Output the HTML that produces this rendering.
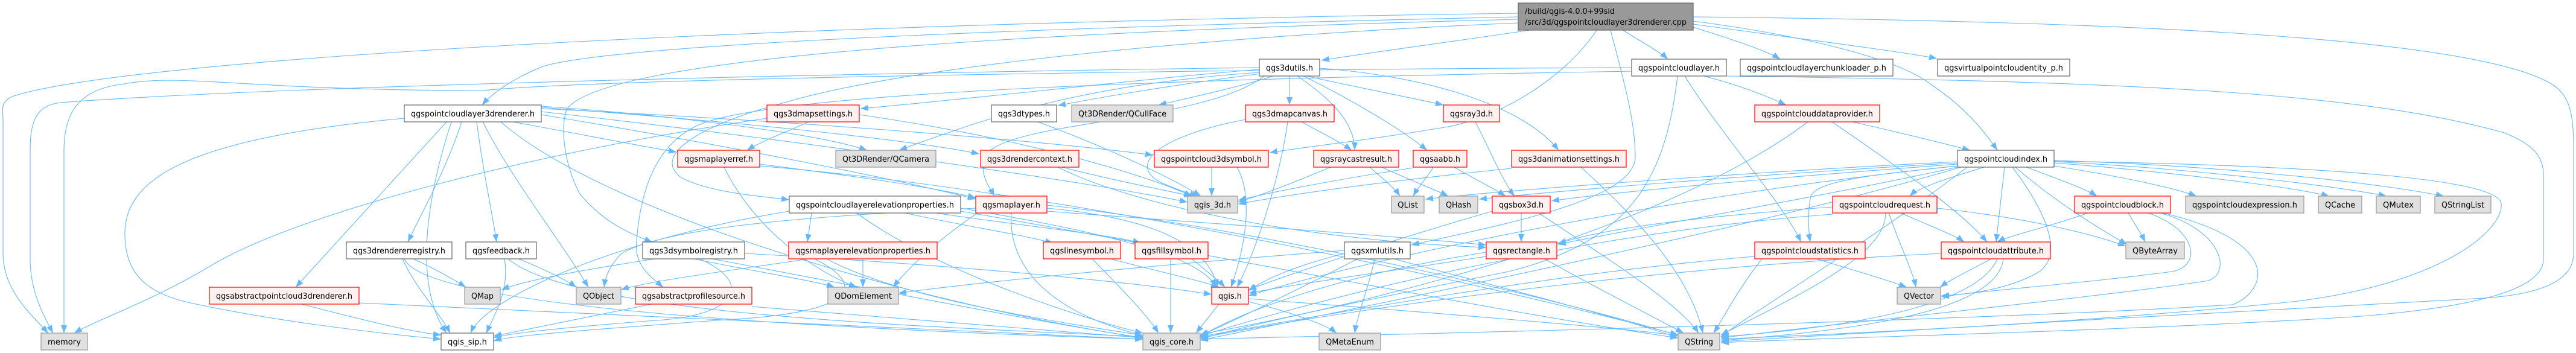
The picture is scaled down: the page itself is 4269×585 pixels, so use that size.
<!DOCTYPE html>
<html><head><meta charset="utf-8"><style>
html,body{margin:0;padding:0;background:#fff;}
svg{display:block;}
text{font-family:"DejaVu Sans","Liberation Sans",sans-serif;font-size:13px;fill:#000;}
.w{fill:#fff;stroke:#666;stroke-width:1.2}
.g{fill:#e0e0e0;stroke:#999;stroke-width:1.2}
.r{fill:#fff0f0;stroke:#ff0000;stroke-width:1.2}
.e path{fill:none;stroke:#63b8ff;stroke-width:1.1}
</style></head><body>
<svg width="4269" height="585" viewBox="0 0 4269 585" xmlns="http://www.w3.org/2000/svg">
<defs><marker id="a" markerUnits="userSpaceOnUse" markerWidth="14" markerHeight="10" refX="13" refY="5" orient="auto"><path d="M0,0 L13,5 L0,10 z" fill="#63b8ff"/></marker></defs>
<g class="e" marker-end="url(#a)">
<!-- root -->
<path marker-end="url(#a)" d="M2535,50 C2400,70 2250,90 2190,100"/>
<path marker-end="url(#a)" d="M2690,50 C2720,70 2750,85 2764,98"/>
<path marker-end="url(#a)" d="M2806,45 C2870,65 2930,85 2950,98"/>
<path marker-end="url(#a)" d="M2806,40 C2950,60 3150,85 3210,97"/>
<path marker-end="url(#a)" d="M2806,35 C3000,60 3150,100 3200,140 C3260,180 3290,220 3310,249"/>
<path marker-end="url(#a)" d="M2516,28 C1500,50 1000,80 900,110 C850,130 815,155 799,174"/>
<path marker-end="url(#a)" d="M2516,22 C1200,40 200,100 20,160 C0,170 5,180 5,200 L5,420 C5,480 50,520 80,552"/>
<path marker-end="url(#a)" d="M2646,50 C2600,120 2500,190 2400,210 C2250,235 2150,245 2104,253"/>
<path marker-end="url(#a)" d="M2669,50 C2690,130 2710,200 2710,260 C2710,330 2500,370 2339,406"/>
<path marker-end="url(#a)" d="M2516,32 C1600,55 1000,100 940,180 C930,200 930,260 960,320 C1000,370 1050,390 1081,401"/>
<path marker-end="url(#a)" d="M2516,38 C2000,60 1500,110 1300,170 C1150,210 1080,260 1130,295 C1180,320 1260,325 1308,331"/>
<path marker-end="url(#a)" d="M2806,28 C3500,35 4100,60 4230,140 C4260,160 4265,190 4265,250 L4265,420 C4265,470 4200,490 4100,495 C3800,510 3200,545 2852,566"/>
<path marker-end="url(#a)" d="M2861,126 C3500,135 3900,150 4150,220 C4200,240 4215,260 4215,290 L4215,430 C4215,480 4100,510 3900,525 C3500,550 3000,560 2852,568"/>
<!-- qgs3dutils -->
<path marker-end="url(#a)" d="M2087,115 C1900,130 1600,165 1426,180"/>
<path marker-end="url(#a)" d="M2090,122 C1950,140 1830,160 1753,175"/>
<path marker-end="url(#a)" d="M2110,126 C2050,145 1980,160 1920,174"/>
<path marker-end="url(#a)" d="M2137,126 L2137,174"/>
<path marker-end="url(#a)" d="M2165,126 C2250,145 2330,160 2392,174"/>
<path marker-end="url(#a)" d="M2150,126 C2200,160 2245,200 2245,249"/>
<path marker-end="url(#a)" d="M2160,126 C2250,170 2330,220 2365,249"/>
<path marker-end="url(#a)" d="M2187,113 C2350,125 2520,170 2583,249"/>
<path marker-end="url(#a)" d="M2087,120 C1800,140 1650,190 1490,249"/>
<path marker-end="url(#a)" d="M2087,112 C1500,120 500,140 100,170 C60,175 50,200 50,250 L50,430 C50,480 70,520 88,552"/>
<path marker-end="url(#a)" d="M2095,126 C2000,200 1700,200 1640,250 C1615,280 1640,310 1648,325"/>
<path marker-end="url(#a)" d="M2704,112 C2000,115 1000,130 800,150 C400,150 300,120 200,140 C120,150 106,200 106,250 L106,552"/>
<path marker-end="url(#a)" d="M2704,118 C2000,130 1300,150 1160,206 C1080,240 1060,330 1055,400 C1050,440 1080,460 1099,476"/>
<!-- qgs3dmapcanvas -->
<path marker-end="url(#a)" d="M2157,202 C2190,220 2220,235 2240,249"/>
<path marker-end="url(#a)" d="M2064,198 C1900,230 1870,280 1930,305 C1960,318 1975,322 1985,325"/>
<path marker-end="url(#a)" d="M2134,202 C2120,300 2080,420 2050,476"/>
<!-- raycast / aabb / ray3d / anim -->
<path marker-end="url(#a)" d="M2270,277 C2290,295 2310,310 2320,325"/>
<path marker-end="url(#a)" d="M2290,277 C2340,300 2380,315 2400,325"/>
<path marker-end="url(#a)" d="M2205,277 C2150,300 2100,320 2052,335"/>
<path marker-end="url(#a)" d="M2375,277 C2365,295 2350,310 2342,325"/>
<path marker-end="url(#a)" d="M2410,277 C2450,300 2480,315 2495,325"/>
<path marker-end="url(#a)" d="M2342,278 C2200,300 2100,320 2052,332"/>
<path marker-end="url(#a)" d="M2445,202 C2470,250 2490,300 2510,325"/>
<path marker-end="url(#a)" d="M2505,279 C2300,300 2150,320 2052,338"/>
<path marker-end="url(#a)" d="M2620,277 C2700,350 2800,450 2822,552"/>
<!-- box3d / rectangle / xmlutils -->
<path marker-end="url(#a)" d="M2521,353 L2521,401"/>
<path marker-end="url(#a)" d="M2550,353 C2650,420 2780,500 2815,552"/>
<path marker-end="url(#a)" d="M2473,350 C2300,400 2150,450 2069,480"/>
<path marker-end="url(#a)" d="M2463,418 C2200,460 2050,520 1989,558"/>
<path marker-end="url(#a)" d="M2560,429 C2650,480 2750,530 2790,552"/>
<path marker-end="url(#a)" d="M2463,425 C2300,450 2150,470 2069,486"/>
<path marker-end="url(#a)" d="M2278,429 C2270,470 2250,520 2245,552"/>
<path marker-end="url(#a)" d="M2250,429 C2150,480 2050,530 1989,556"/>
<path marker-end="url(#a)" d="M2310,429 C2500,480 2700,530 2781,560"/>
<path marker-end="url(#a)" d="M2228,420 C2150,440 2100,460 2069,482"/>
<path marker-end="url(#a)" d="M2228,415 C1900,440 1600,470 1489,486"/>
<!-- qgspointcloudlayer -->
<path marker-end="url(#a)" d="M2823,126 C2880,140 2930,160 2960,174"/>
<path marker-end="url(#a)" d="M2792,126 C2850,220 2950,330 2985,401"/>
<path marker-end="url(#a)" d="M2780,126 C2760,300 2700,400 2500,450 C2300,490 2100,530 1989,562"/>
<!-- dataprovider -->
<path marker-end="url(#a)" d="M3070,202 C3150,220 3230,240 3265,249"/>
<path marker-end="url(#a)" d="M3036,202 C3150,280 3250,350 3293,401"/>
<path marker-end="url(#a)" d="M2996,202 C2800,350 2400,480 1989,554"/>
<!-- index -->
<path marker-end="url(#a)" d="M3288,277 C3230,295 3180,310 3165,325"/>
<path marker-end="url(#a)" d="M3244,275 C3100,290 3000,300 3000,330 C2995,360 2998,390 3000,401"/>
<path marker-end="url(#a)" d="M3322,277 L3308,401"/>
<path marker-end="url(#a)" d="M3358,277 C3420,300 3460,315 3475,325"/>
<path marker-end="url(#a)" d="M3404,275 C3500,290 3600,310 3640,325"/>
<path marker-end="url(#a)" d="M3404,270 C3600,285 3800,310 3860,325"/>
<path marker-end="url(#a)" d="M3404,268 C3650,280 3880,310 3955,325"/>
<path marker-end="url(#a)" d="M3404,266 C3700,275 3950,305 4050,325"/>
<path marker-end="url(#a)" d="M3340,277 C3400,330 3480,380 3525,405"/>
<path marker-end="url(#a)" d="M3335,277 C3390,350 3420,420 3380,450 C3330,480 3260,488 3217,490"/>
<path marker-end="url(#a)" d="M3404,267 C3900,275 4140,300 4145,337 C4150,380 4050,470 3800,500 C3400,540 3000,555 2852,562"/>
<path marker-end="url(#a)" d="M3244,270 C2900,290 2600,315 2451,330"/>
<path marker-end="url(#a)" d="M3244,272 C3000,290 2700,315 2571,333"/>
<path marker-end="url(#a)" d="M3244,268 C2900,285 2500,315 2362,330"/>
<path marker-end="url(#a)" d="M3244,277 C3000,330 2700,380 2582,405"/>
<path marker-end="url(#a)" d="M3244,275 C2800,320 2300,420 2069,490"/>
<path marker-end="url(#a)" d="M3250,277 C2900,380 2300,500 1989,564"/>
<path marker-end="url(#a)" d="M3260,277 C3100,400 2900,520 2852,558"/>
<!-- request -->
<path marker-end="url(#a)" d="M3150,353 C3200,375 3240,390 3255,401"/>
<path marker-end="url(#a)" d="M3130,353 C3150,410 3170,450 3175,476"/>
<path marker-end="url(#a)" d="M3037,343 C2800,360 2650,380 2582,404"/>
<path marker-end="url(#a)" d="M3037,355 C2700,380 2300,460 1989,557"/>
<path marker-end="url(#a)" d="M3125,353 C3125,420 3000,480 2852,555"/>
<path marker-end="url(#a)" d="M3210,345 C3350,360 3460,385 3523,408"/>
<!-- block -->
<path marker-end="url(#a)" d="M3460,353 C3400,375 3330,390 3310,401"/>
<path marker-end="url(#a)" d="M3527,353 C3540,375 3550,390 3555,401"/>
<path marker-end="url(#a)" d="M3560,353 C3640,380 3650,440 3600,450 C3450,470 3300,480 3217,492"/>
<path marker-end="url(#a)" d="M3580,353 C3680,380 3700,450 3660,465 C3500,490 3100,530 2852,560"/>
<path marker-end="url(#a)" d="M3585,353 C3780,400 3760,480 3700,505 C3300,530 2500,550 1989,562"/>
<!-- attribute / statistics -->
<path marker-end="url(#a)" d="M3300,429 C3260,450 3230,465 3215,476"/>
<path marker-end="url(#a)" d="M3310,429 C3280,500 3100,540 2852,558"/>
<path marker-end="url(#a)" d="M3217,420 C2800,440 2300,500 1989,560"/>
<path marker-end="url(#a)" d="M3320,429 C3310,520 3050,550 2852,564"/>
<path marker-end="url(#a)" d="M3010,429 C3080,450 3130,465 3160,476"/>
<path marker-end="url(#a)" d="M2908,425 C2600,450 2200,520 1989,558"/>
<path marker-end="url(#a)" d="M2920,429 C2880,480 2860,520 2840,552"/>
<!-- qgspointcloudlayer3drenderer -->
<path marker-end="url(#a)" d="M740,202 C650,300 560,400 490,476"/>
<path marker-end="url(#a)" d="M765,202 C740,280 700,350 676,401"/>
<path marker-end="url(#a)" d="M790,202 C800,280 815,350 823,401"/>
<path marker-end="url(#a)" d="M800,202 C850,300 930,400 975,476"/>
<path marker-end="url(#a)" d="M850,202 C950,220 1050,240 1121,252"/>
<path marker-end="url(#a)" d="M748,202 C700,350 690,480 740,552"/>
<path marker-end="url(#a)" d="M670,196 C300,230 205,300 207,390 C208,460 250,490 330,505 C450,530 600,550 731,562"/>
<path marker-end="url(#a)" d="M1271,196 C900,250 500,350 350,440 C250,500 160,530 123,552"/>
<path marker-end="url(#a)" d="M897,176 C1100,190 1350,220 1437,249"/>
<path marker-end="url(#a)" d="M897,178 C1200,200 1500,230 1623,255"/>
<path marker-end="url(#a)" d="M897,180 C1300,200 1700,230 1911,257"/>
<path marker-end="url(#a)" d="M897,185 C1300,230 1800,300 1968,335"/>
<path marker-end="url(#a)" d="M897,190 C1200,240 1500,300 1617,330"/>
<path marker-end="url(#a)" d="M830,202 C1000,350 1500,500 1894,560"/>
<!-- registry / feedback -->
<path marker-end="url(#a)" d="M685,429 C720,445 755,465 772,476"/>
<path marker-end="url(#a)" d="M667,429 C690,480 730,520 746,552"/>
<path marker-end="url(#a)" d="M670,429 C700,500 1200,540 1894,562"/>
<path marker-end="url(#a)" d="M859,429 C900,445 940,465 955,476"/>
<path marker-end="url(#a)" d="M836,429 C845,480 820,520 806,552"/>
<path marker-end="url(#a)" d="M842,429 C950,520 1500,540 1894,558"/>
<!-- symbolregistry -->
<path marker-end="url(#a)" d="M1085,429 C950,450 870,465 831,480"/>
<path marker-end="url(#a)" d="M1150,429 C1250,450 1350,465 1383,476"/>
<path marker-end="url(#a)" d="M1160,429 C1250,470 1220,520 1100,530 C900,545 830,555 818,560"/>
<path marker-end="url(#a)" d="M1180,429 C1400,470 1700,530 1894,560"/>
<path marker-end="url(#a)" d="M1234,420 C1600,440 1900,470 2008,488"/>
<!-- maplayerelevationproperties -->
<path marker-end="url(#a)" d="M1430,429 L1430,476"/>
<path marker-end="url(#a)" d="M1340,429 C1200,450 1080,465 1029,480"/>
<path marker-end="url(#a)" d="M1350,429 C1450,480 1400,520 1200,530 C1000,545 850,555 818,565"/>
<path marker-end="url(#a)" d="M1370,429 C1500,500 1800,540 1894,556"/>
<path marker-end="url(#a)" d="M1080,504 C950,530 850,550 818,557"/>
<path marker-end="url(#a)" d="M1246,508 C1500,530 1750,550 1894,560"/>
<path marker-end="url(#a)" d="M500,504 C600,530 680,550 731,555"/>
<path marker-end="url(#a)" d="M595,502 C1000,520 1500,545 1894,562"/>
<!-- maplayerref / rendercontext / symbol -->
<path marker-end="url(#a)" d="M1200,277 C1250,380 1350,450 1420,476"/>
<path marker-end="url(#a)" d="M1259,272 C1400,290 1550,310 1617,328"/>
<path marker-end="url(#a)" d="M1259,275 C1800,320 2500,480 2781,555"/>
<path marker-end="url(#a)" d="M1760,277 C1850,300 1930,315 1975,325"/>
<path marker-end="url(#a)" d="M1753,277 C1900,350 2200,400 2463,410"/>
<path marker-end="url(#a)" d="M2008,277 L2008,325"/>
<path marker-end="url(#a)" d="M2050,277 C2080,330 2060,420 2040,476"/>
<!-- maplayer -->
<path marker-end="url(#a)" d="M1676,353 C1670,450 1750,520 1894,556"/>
<path marker-end="url(#a)" d="M1735,340 C2100,380 2600,500 2781,556"/>
<path marker-end="url(#a)" d="M1620,353 C1550,400 1500,450 1480,476"/>
<path marker-end="url(#a)" d="M1735,345 C1900,360 2000,400 2018,476"/>
<path marker-end="url(#a)" d="M1617,345 C1300,360 1100,380 1030,420 C1010,440 1003,460 1001,476"/>
<path marker-end="url(#a)" d="M1735,350 C2000,370 2300,390 2463,406"/>
<!-- pointcloudlayerelevationproperties -->
<path marker-end="url(#a)" d="M1345,353 L1338,401"/>
<path marker-end="url(#a)" d="M1500,353 C1600,375 1700,390 1745,403"/>
<path marker-end="url(#a)" d="M1550,353 C1700,375 1850,390 1890,403"/>
<path marker-end="url(#a)" d="M1308,350 C1000,400 800,500 780,552"/>
<path marker-end="url(#a)" d="M1420,353 C1550,450 1800,530 1894,552"/>
<path marker-end="url(#a)" d="M1592,345 C1800,380 1990,420 2015,476"/>
<path marker-end="url(#a)" d="M1592,350 C2000,420 2500,520 2781,560"/>
<!-- symbols / qgis.h / types / mapsettings -->
<path marker-end="url(#a)" d="M1810,429 C1850,470 1900,520 1920,552"/>
<path marker-end="url(#a)" d="M1840,429 C1920,450 1990,465 2020,476"/>
<path marker-end="url(#a)" d="M1940,429 L1940,552"/>
<path marker-end="url(#a)" d="M1975,429 C2000,450 2020,465 2030,476"/>
<path marker-end="url(#a)" d="M2020,504 L1982,552"/>
<path marker-end="url(#a)" d="M2069,500 C2150,520 2200,540 2215,552"/>
<path marker-end="url(#a)" d="M2069,495 C2400,520 2700,545 2781,556"/>
<path marker-end="url(#a)" d="M1720,202 C1850,250 1950,300 1990,325"/>
<path marker-end="url(#a)" d="M1340,202 C1300,220 1260,235 1238,249"/>
<path marker-end="url(#a)" d="M1424,190 C1700,230 1900,290 1975,325"/>
</g>
<!-- nodes -->
<rect class="g" x="2516" y="5" width="290" height="45" style="fill:#999;stroke:#666"/>
<text x="2527" y="23" textLength="149" lengthAdjust="spacingAndGlyphs">/build/qgis-4.0.0+99sid</text>
<text x="2527" y="41" textLength="268" lengthAdjust="spacingAndGlyphs">/src/3d/qgspointcloudlayer3drenderer.cpp</text>

<rect class="w" x="2087" y="98" width="100" height="28"/><text x="2137" y="117" text-anchor="middle" textLength="78" lengthAdjust="spacingAndGlyphs">qgs3dutils.h</text>
<rect class="w" x="2704" y="98" width="157" height="28"/><text x="2782.5" y="117" text-anchor="middle" textLength="135" lengthAdjust="spacingAndGlyphs">qgspointcloudlayer.h</text>
<rect class="w" x="2884" y="98" width="253" height="28"/><text x="3010.5" y="117" text-anchor="middle" textLength="231" lengthAdjust="spacingAndGlyphs">qgspointcloudlayerchunkloader_p.h</text>
<rect class="w" x="3211" y="98" width="219" height="28"/><text x="3320.5" y="117" text-anchor="middle" textLength="197" lengthAdjust="spacingAndGlyphs">qgsvirtualpointcloudentity_p.h</text>

<rect class="w" x="670" y="174" width="227" height="28"/><text x="783.5" y="193" text-anchor="middle" textLength="205" lengthAdjust="spacingAndGlyphs">qgspointcloudlayer3drenderer.h</text>
<rect class="r" x="1271" y="174" width="153" height="28"/><text x="1347.5" y="193" text-anchor="middle" textLength="131" lengthAdjust="spacingAndGlyphs">qgs3dmapsettings.h</text>
<rect class="w" x="1643" y="174" width="108" height="28"/><text x="1697" y="193" text-anchor="middle" textLength="86" lengthAdjust="spacingAndGlyphs">qgs3dtypes.h</text>
<rect class="g" x="1776" y="174" width="168" height="28"/><text x="1860" y="193" text-anchor="middle" textLength="146" lengthAdjust="spacingAndGlyphs">Qt3DRender/QCullFace</text>
<rect class="r" x="2064" y="174" width="147" height="28"/><text x="2137.5" y="193" text-anchor="middle" textLength="125" lengthAdjust="spacingAndGlyphs">qgs3dmapcanvas.h</text>
<rect class="r" x="2392" y="174" width="93" height="28"/><text x="2438.5" y="193" text-anchor="middle" textLength="71" lengthAdjust="spacingAndGlyphs">qgsray3d.h</text>
<rect class="r" x="2908" y="174" width="207" height="28"/><text x="3011.5" y="193" text-anchor="middle" textLength="185" lengthAdjust="spacingAndGlyphs">qgspointclouddataprovider.h</text>

<rect class="r" x="1123" y="249" width="136" height="28"/><text x="1191" y="268" text-anchor="middle" textLength="114" lengthAdjust="spacingAndGlyphs">qgsmaplayerref.h</text>
<rect class="g" x="1385" y="249" width="166" height="28"/><text x="1468" y="268" text-anchor="middle" textLength="144" lengthAdjust="spacingAndGlyphs">Qt3DRender/QCamera</text>
<rect class="r" x="1625" y="249" width="163" height="28"/><text x="1706.5" y="268" text-anchor="middle" textLength="141" lengthAdjust="spacingAndGlyphs">qgs3drendercontext.h</text>
<rect class="r" x="1913" y="249" width="189" height="28"/><text x="2007.5" y="268" text-anchor="middle" textLength="167" lengthAdjust="spacingAndGlyphs">qgspointcloud3dsymbol.h</text>
<rect class="r" x="2177" y="249" width="141" height="28"/><text x="2247.5" y="268" text-anchor="middle" textLength="119" lengthAdjust="spacingAndGlyphs">qgsraycastresult.h</text>
<rect class="r" x="2342" y="249" width="89" height="28"/><text x="2386.5" y="268" text-anchor="middle" textLength="67" lengthAdjust="spacingAndGlyphs">qgsaabb.h</text>
<rect class="r" x="2505" y="249" width="190" height="28"/><text x="2600" y="268" text-anchor="middle" textLength="168" lengthAdjust="spacingAndGlyphs">qgs3danimationsettings.h</text>
<rect class="w" x="3244" y="249" width="160" height="28"/><text x="3324" y="268" text-anchor="middle" textLength="138" lengthAdjust="spacingAndGlyphs">qgspointcloudindex.h</text>

<rect class="w" x="1308" y="325" width="284" height="28"/><text x="1450" y="344" text-anchor="middle" textLength="262" lengthAdjust="spacingAndGlyphs">qgspointcloudlayerelevationproperties.h</text>
<rect class="r" x="1617" y="325" width="118" height="28"/><text x="1676" y="344" text-anchor="middle" textLength="96" lengthAdjust="spacingAndGlyphs">qgsmaplayer.h</text>
<rect class="g" x="1968" y="325" width="83" height="28"/><text x="2009.5" y="344" text-anchor="middle" textLength="61" lengthAdjust="spacingAndGlyphs">qgis_3d.h</text>
<rect class="g" x="2306" y="325" width="54" height="28"/><text x="2333" y="344" text-anchor="middle" textLength="34" lengthAdjust="spacingAndGlyphs">QList</text>
<rect class="g" x="2385" y="325" width="64" height="28"/><text x="2417" y="344" text-anchor="middle" textLength="42" lengthAdjust="spacingAndGlyphs">QHash</text>
<rect class="r" x="2473" y="325" width="96" height="28"/><text x="2521" y="344" text-anchor="middle" textLength="74" lengthAdjust="spacingAndGlyphs">qgsbox3d.h</text>
<rect class="r" x="3037" y="325" width="173" height="28"/><text x="3123.5" y="344" text-anchor="middle" textLength="151" lengthAdjust="spacingAndGlyphs">qgspointcloudrequest.h</text>
<rect class="r" x="3438" y="325" width="159" height="28"/><text x="3517.5" y="344" text-anchor="middle" textLength="137" lengthAdjust="spacingAndGlyphs">qgspointcloudblock.h</text>
<rect class="g" x="3622" y="325" width="196" height="28"/><text x="3720" y="344" text-anchor="middle" textLength="174" lengthAdjust="spacingAndGlyphs">qgspointcloudexpression.h</text>
<rect class="g" x="3842" y="325" width="72" height="28"/><text x="3878" y="344" text-anchor="middle" textLength="50" lengthAdjust="spacingAndGlyphs">QCache</text>
<rect class="g" x="3938" y="325" width="73" height="28"/><text x="3974.5" y="344" text-anchor="middle" textLength="51" lengthAdjust="spacingAndGlyphs">QMutex</text>
<rect class="g" x="4035" y="325" width="93" height="28"/><text x="4081.5" y="344" text-anchor="middle" textLength="71" lengthAdjust="spacingAndGlyphs">QStringList</text>

<rect class="w" x="574" y="401" width="175" height="28"/><text x="661.5" y="420" text-anchor="middle" textLength="153" lengthAdjust="spacingAndGlyphs">qgs3drendererregistry.h</text>
<rect class="w" x="772" y="401" width="117" height="28"/><text x="830.5" y="420" text-anchor="middle" textLength="95" lengthAdjust="spacingAndGlyphs">qgsfeedback.h</text>
<rect class="w" x="1065" y="401" width="169" height="28"/><text x="1149.5" y="420" text-anchor="middle" textLength="147" lengthAdjust="spacingAndGlyphs">qgs3dsymbolregistry.h</text>
<rect class="r" x="1307" y="401" width="246" height="28"/><text x="1430" y="420" text-anchor="middle" textLength="224" lengthAdjust="spacingAndGlyphs">qgsmaplayerelevationproperties.h</text>
<rect class="r" x="1729" y="401" width="128" height="28"/><text x="1793" y="420" text-anchor="middle" textLength="106" lengthAdjust="spacingAndGlyphs">qgslinesymbol.h</text>
<rect class="r" x="1881" y="401" width="121" height="28"/><text x="1941.5" y="420" text-anchor="middle" textLength="99" lengthAdjust="spacingAndGlyphs">qgsfillsymbol.h</text>
<rect class="w" x="2228" y="401" width="109" height="28"/><text x="2282.5" y="420" text-anchor="middle" textLength="87" lengthAdjust="spacingAndGlyphs">qgsxmlutils.h</text>
<rect class="r" x="2463" y="401" width="117" height="28"/><text x="2521.5" y="420" text-anchor="middle" textLength="95" lengthAdjust="spacingAndGlyphs">qgsrectangle.h</text>
<rect class="r" x="2908" y="401" width="183" height="28"/><text x="2999.5" y="420" text-anchor="middle" textLength="161" lengthAdjust="spacingAndGlyphs">qgspointcloudstatistics.h</text>
<rect class="r" x="3217" y="401" width="181" height="28"/><text x="3307.5" y="420" text-anchor="middle" textLength="159" lengthAdjust="spacingAndGlyphs">qgspointcloudattribute.h</text>
<rect class="g" x="3523" y="401" width="97" height="28"/><text x="3571.5" y="420" text-anchor="middle" textLength="75" lengthAdjust="spacingAndGlyphs">QByteArray</text>

<rect class="r" x="347" y="476" width="248" height="28"/><text x="471" y="495" text-anchor="middle" textLength="226" lengthAdjust="spacingAndGlyphs">qgsabstractpointcloud3drenderer.h</text>
<rect class="g" x="770" y="476" width="59" height="28"/><text x="799.5" y="495" text-anchor="middle" textLength="37" lengthAdjust="spacingAndGlyphs">QMap</text>
<rect class="g" x="955" y="476" width="74" height="28"/><text x="992" y="495" text-anchor="middle" textLength="52" lengthAdjust="spacingAndGlyphs">QObject</text>
<rect class="r" x="1053" y="476" width="193" height="28"/><text x="1149.5" y="495" text-anchor="middle" textLength="171" lengthAdjust="spacingAndGlyphs">qgsabstractprofilesource.h</text>
<rect class="g" x="1372" y="476" width="117" height="28"/><text x="1430.5" y="495" text-anchor="middle" textLength="95" lengthAdjust="spacingAndGlyphs">QDomElement</text>
<rect class="r" x="2008" y="476" width="61" height="28"/><text x="2038.5" y="495" text-anchor="middle" textLength="39" lengthAdjust="spacingAndGlyphs">qgis.h</text>
<rect class="g" x="3144" y="476" width="72" height="28"/><text x="3180" y="495" text-anchor="middle" textLength="50" lengthAdjust="spacingAndGlyphs">QVector</text>

<rect class="g" x="68" y="552" width="77" height="28"/><text x="106.5" y="571" text-anchor="middle" textLength="55" lengthAdjust="spacingAndGlyphs">memory</text>
<rect class="w" x="731" y="552" width="87" height="28"/><text x="774.5" y="571" text-anchor="middle" textLength="65" lengthAdjust="spacingAndGlyphs">qgis_sip.h</text>
<rect class="g" x="1894" y="552" width="95" height="28"/><text x="1941.5" y="571" text-anchor="middle" textLength="73" lengthAdjust="spacingAndGlyphs">qgis_core.h</text>
<rect class="g" x="2186" y="552" width="102" height="28"/><text x="2237" y="571" text-anchor="middle" textLength="80" lengthAdjust="spacingAndGlyphs">QMetaEnum</text>
<rect class="g" x="2781" y="552" width="69" height="28"/><text x="2815.5" y="571" text-anchor="middle" textLength="47" lengthAdjust="spacingAndGlyphs">QString</text>
</svg>
</body></html>
